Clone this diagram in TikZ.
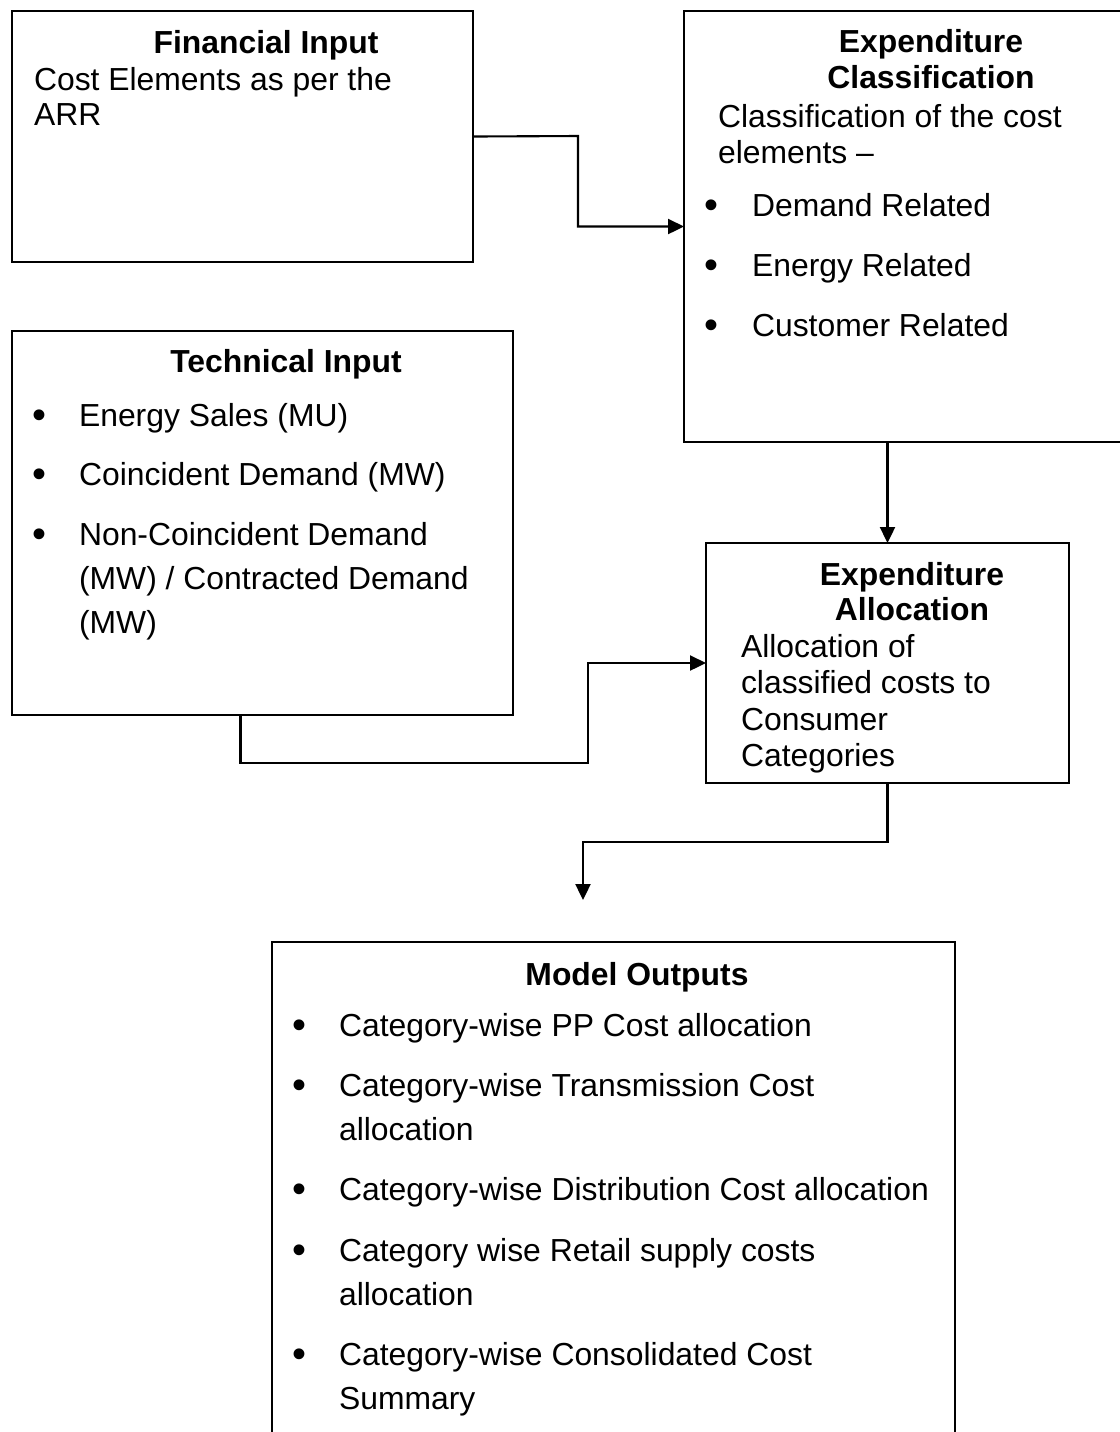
\documentclass[tikz,border=0pt]{standalone}
\usepackage{fontspec}
\setmainfont{Liberation Sans}
\usetikzlibrary{arrows.meta}

\begin{document}
\begin{tikzpicture}[x=0.015cm, y=-0.015cm, line width=0.9pt,
    box/.style={draw, anchor=north west, inner sep=0pt, outer sep=0pt},
    ttl/.style={anchor=base, inner sep=0pt, font=\fontsize{13.6}{16}\selectfont\bfseries},
    txt/.style={anchor=base west, inner sep=0pt, font=\fontsize{13.6}{16}\selectfont},
    dot/.style={anchor=base, inner sep=0pt, yshift=-1.2pt, font=\fontsize{17}{20}\selectfont},
    arr/.style={-{Triangle[length=6.8pt, width=6.4pt]}}]
    \useasboundingbox (0,0) rectangle (1120,1432);

    % Boxes
    \node[box, minimum width=6.915cm, minimum height=3.765cm] (fin) at (12,11) {};
    \node[box, minimum width=6.69cm, minimum height=6.465cm] (cls) at (684,11) {};
    \node[box, minimum width=7.515cm, minimum height=5.76cm] (tech) at (12,331) {};
    \node[box, minimum width=5.445cm, minimum height=3.6cm] (alloc) at (706,543) {};
    \node[box, minimum width=10.245cm, minimum height=8.1cm] (model) at (272,942) {};

    % Financial input
    \node[ttl] (fin-t) at (266,53) {Financial Input};
    \node[txt] (fin-1) at (33,90) {Cost Elements as per the};
    \node[txt] (fin-2) at (33,125) {ARR};

    % Expenditure classification
    \node[ttl] (cls-t1) at (931,52) {Expenditure};
    \node[ttl] (cls-t2) at (931,88) {Classification};
    \node[txt] (cls-1) at (717,127) {Classification of the cost};
    \node[txt] (cls-2) at (717,163) {elements –};
    \foreach \y/\t [count=\i] in {216/Demand Related, 276/Energy Related, 336/Customer Related} {
        \node[dot] (cls-b\i) at (711,\y) {•};
        \node[txt] (cls-i\i) at (751,\y) {\t};
    }

    % Technical input
    \node[ttl] (tech-t) at (286,372) {Technical Input};
    \foreach \y/\t [count=\i] in {426/{Energy Sales (MU)}, 485/{Coincident Demand (MW)}, 545/{Non-Coincident Demand}} {
        \node[dot] (tech-b\i) at (39,\y) {•};
        \node[txt] (tech-i\i) at (78,\y) {\t};
    }
    \node[txt] (tech-c1) at (78,589) {(MW) / Contracted Demand};
    \node[txt] (tech-c2) at (78,633) {(MW)};

    % Expenditure allocation
    \node[ttl] (alloc-t1) at (912,585) {Expenditure};
    \node[ttl] (alloc-t2) at (912,620) {Allocation};
    \node[txt] (alloc-1) at (740,657) {Allocation of};
    \node[txt] (alloc-2) at (740,693) {classified costs to};
    \node[txt] (alloc-3) at (740,730) {Consumer};
    \node[txt] (alloc-4) at (740,766) {Categories};

    % Model outputs
    \node[ttl] (model-t) at (637,985) {Model Outputs};
    \foreach \y/\t [count=\i] in {1036/Category-wise PP Cost allocation, 1096/Category-wise Transmission Cost, 1200/Category-wise Distribution Cost allocation, 1261/Category wise Retail supply costs, 1365/Category-wise Consolidated Cost} {
        \node[dot] (model-b\i) at (299,\y) {•};
        \node[txt] (model-i\i) at (338,\y) {\t};
    }
    \node[txt] (model-c1) at (338,1140) {allocation};
    \node[txt] (model-c2) at (338,1305) {allocation};
    \node[txt] (model-c3) at (338,1409) {Summary};

    % Connectors
    \coordinate (fbend) at (578,136);
    \coordinate (tbend) at (588,763);
    \coordinate (mbend) at (583,842);
    \coordinate (mtip) at (583,900);
    \draw[arr] (fin.east) -- (fbend) |- (cls.west);
    \draw[arr] (alloc.north |- cls.south) -- (alloc.north);
    \draw[arr] ([xshift=-0.33cm]tech.south) |- (tbend) |- (alloc.west);
    \draw[arr] (alloc.south) |- (mbend) -- (mtip);
\end{tikzpicture}
\end{document}
